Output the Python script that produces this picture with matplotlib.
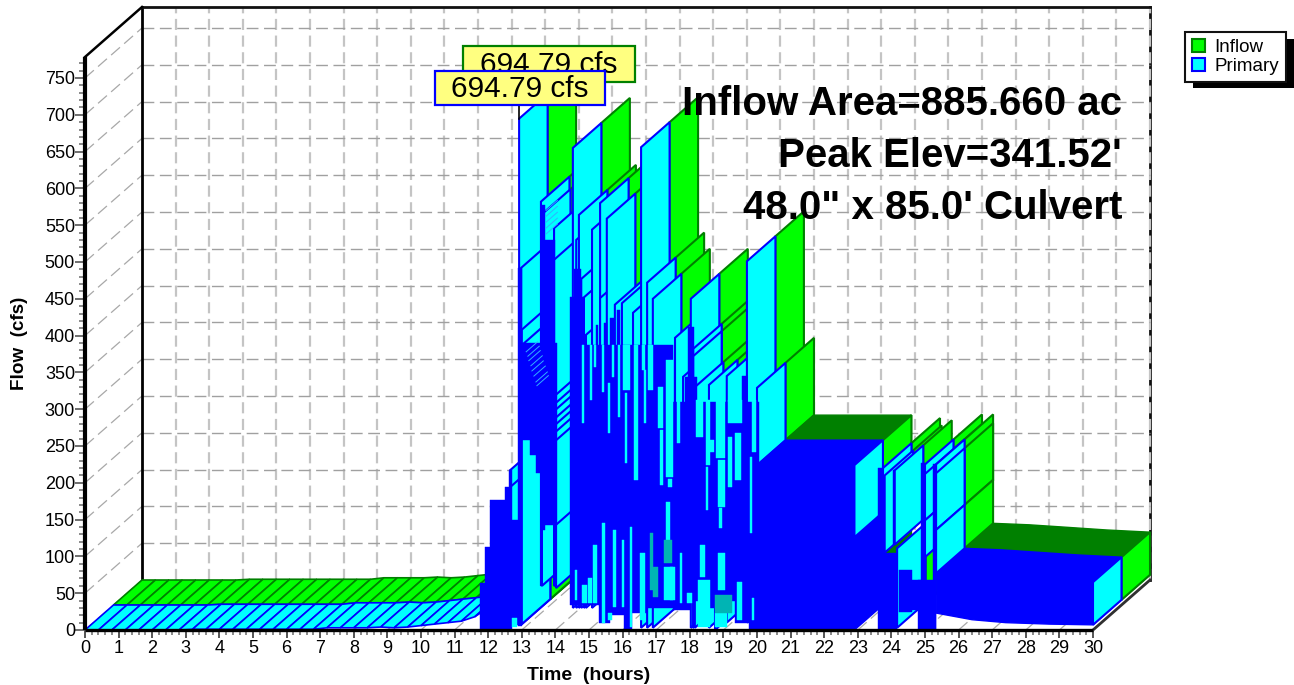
import matplotlib
matplotlib.use("Agg")
import matplotlib.pyplot as plt
from matplotlib.patches import Polygon, Rectangle, Patch
from matplotlib.ticker import MultipleLocator

W, H = 1294, 685
plt.rcParams['font.family'] = ['Liberation Sans', 'DejaVu Sans']
plt.rcParams['lines.scale_dashes'] = False

# ---------- data ----------
low_t = [0.0,0.4,0.8,1.2,1.6,2.0,2.4,2.8,3.2,3.6,4.0,4.4,4.8,5.2,5.6,6.0,6.4,6.8,
         7.2,7.6,8.0,8.4,8.8,9.2,9.6,10.0,10.4,10.8,11.2,11.6,12.0]
low_q = [0,0,0,0,0,0,0,0,1,1,1,1,1,1,1,1,1,1,
         3,3,3,3,4,3,4,6,8,10,12,18,30]

wall_t = [12.65,12.65,12.92,12.98,13.0,13.0,13.57,13.6,13.96,13.96,14.0,14.0,14.0,14.0,14.0,14.0,14.0,14.02,
          14.52,14.62,14.7,14.77,14.85,14.91,15.09,15.33,15.33,15.53,15.77,15.98,16.31,16.55,16.73,16.9,
          17.56,17.6,17.8,18.03,18.1,18.1,18.15,18.57,18.75,19.1,19.7,19.8,20.0,
          22.9,23.75,23.8,24.1,24.17,25.0,25.0,25.0,25.33,25.33,25.33,30.0]
wall_top = [217,194,694.79,492,408,387,582,565,546,503,319,308,299,288,279,269,257,143,
            655,530,564,477,452,401,544,580,451,559,442,444,431,656,472,450,
            397,299,344,450,382,372,330,333,295,345,501,299,329,
            224,220,210,217,111,225,212,149,225,213,136,65]
wall_bottom = [30,30,8,8,8,8,60,60,60,60,60,60,60,60,60,60,60,57,
               30,30,30,30,30,30,30,30,30,30,30,30,30,3,3,3,
               30,30,30,3,3,3,3,3,0,10,10,10,224,
               126,105,105,116,3,149,149,99,136,136,77,7]

dense_t0 = [11.76,11.9,12.05,12.5,12.62,12.72,12.9,13.0,13.24,13.42,13.57,13.69,13.99,
            14.43,14.55,14.76,14.82,15.3,15.63,16.04,16.28,16.73,
            17.5,18.05,18.5,18.85,19.35,19.75,
            15.2,15.45,15.63,15.83,17.85,17.95,19.55]
dense_t1 = [11.9,12.05,12.5,12.62,12.72,12.92,13.0,13.24,13.42,13.57,13.69,13.99,14.05,
            14.55,14.76,14.82,15.3,15.63,16.04,16.28,16.73,17.5,
            18.05,18.5,18.85,19.35,19.75,20.05,
            15.27,15.53,15.74,15.92,18.21,18.12,19.7]
dense_low = [0,0,0,0,0,7,6,258,238,213,136,143,143,
             34,34,34,34,10,20,0,23,30,
             27,40,30,40,10,0,
             100,100,100,100,100,100,100]
dense_high = [64,113,177,194,217,149,492,390,390,390,578,530,390,
              453,490,453,387,387,387,387,387,387,
              310,310,310,310,310,310,
              415,417,424,435,344,412,345]

gap_t0 = [14.79,15.03,15.15,15.39,15.57,15.68,15.86,16.01,16.07,16.34,16.58,16.64,16.76,17.05,17.11,17.29,17.35,
          17.62,17.29,14.58,14.79,14.97,15.12,15.39,15.57,15.71,15.98,16.22,16.52,17.23,
          18.18,18.48,18.48,18.6,18.78,18.84,18.87,19.14,19.14,19.35,19.79,19.85,18.84,18.75,18.3,18.24,
          17.71,17.92,19.4,19.85,17.41,12.72]
gap_t1 = [14.84,15.09,15.21,15.45,15.63,15.73,15.92,16.22,16.13,16.46,16.67,16.7,16.9,17.2,17.2,17.5,17.47,
          17.71,17.41,14.64,14.94,15.09,15.24,15.48,15.68,15.8,16.04,16.28,16.67,17.5,
          18.39,18.6,18.54,18.72,19.05,19.05,18.96,19.26,19.55,19.52,19.85,19.97,19.05,19.11,18.45,18.6,
          17.77,18.07,19.55,19.91,17.56,12.86]
gap_low = [281,313,357,323,268,344,289,326,227,204,353,281,326,275,197,208,194,
           254,122,41,37,37,37,10,14,31,31,4,14,41,
           262,224,163,242,234,167,139,194,281,204,132,242,54,4,72,4,
           37,37,14,14,41,4]
gap_high = [387,387,387,387,336,387,387,387,322,387,387,353,387,330,272,367,205,
            312,174,82,61,71,115,145,23,136,122,140,105,86,
            312,312,222,258,312,231,166,262,312,268,235,312,105,23,116,68,
            105,50,65,43,86,16]

teal_t0 = [16.82,16.90,17.23,18.75]
teal_t1 = [16.90,17.05,17.47,19.26]
teal_low = [54,45,91,23]
teal_high = [132,86,122,48]

stripe_t = [13.13,13.18,13.21,13.27,13.30,13.36,13.42,13.45,13.72,13.72,13.72,13.72,13.72]
stripe_q = [378,372,366,359,352,345,337,332,570,562,554,546,538]

block_20_t = [20.0,22.9]
block_20_low = [0,0]
block_20_high = [224,224]

block_25_t = [25.33,26.4,27.4,28.7,30.0]
block_25_low = [23,14,10,8,7]
block_25_high = [77,75,72,68,65]

late_t0 = [23.6,23.75,24.05,24.23,24.6,24.79,24.88,25.24]
late_t1 = [23.75,24.17,24.14,24.6,24.88,25.33,25.0,25.33]
late_low = [0,0,116,24,27,0,0,0]
late_high = [220,105,217,82,68,68,227,225]

peak_labels = ["694.79 cfs", "694.79 cfs"]
notes = ["Inflow Area=885.660 ac", "Peak Elev=341.52'", "48.0\" x 85.0' Culvert"]
series_names = ["Inflow", "Primary"]
x_major = list(range(0, 31))
y_major = list(range(0, 751, 50))

GREEN, DGREEN, CYAN, BLUE, TEAL = '#00FF00', '#008000', '#00FFFF', '#0000FF', '#00B4B4'

# ---------- figure / axes ----------
fig = plt.figure(figsize=(W/100, H/100), dpi=100, facecolor='white')
ax = fig.add_axes([85/W, 1-630/H, (1093-85)/W, (630-57)/H])
ax.set_xlim(0, 30)
ax.set_ylim(0, (630-57)/0.736)
ax.patch.set_alpha(0)
for s in ax.spines.values():
    s.set_visible(False)

DT, DQ = 57.0/33.6, 50/0.736
TOPQ = (630-57)/0.736

z = [1.0]
def nz():
    z[0] += 0.001
    return z[0]

def poly(pts, fc, ec, lw=1.5):
    ax.add_patch(Polygon(pts, closed=True, fc=fc, ec=ec, lw=lw, clip_on=False, zorder=nz(), joinstyle='miter'))

def wall(t, top, bot, d0, d1, fc, ec):
    poly([(t+d0*DT, top+d0*DQ), (t+d1*DT, top+d1*DQ), (t+d1*DT, bot+d1*DQ), (t+d0*DT, bot+d0*DQ)], fc, ec)

def block(ts, lows, highs, d0, d1, color):
    pts = [(t+d0*DT, l+d0*DQ) for t, l in zip(ts, lows)]
    pts.append((ts[-1]+d1*DT, lows[-1]+d1*DQ))
    pts += [(t+d1*DT, h+d1*DQ) for t, h in zip(ts[::-1], highs[::-1])]
    pts.append((ts[0]+d0*DT, highs[0]+d0*DQ))
    poly(pts, color, color, 1.0)

def rects(t0, t1, lo, hi, color):
    for a, b, c, d in zip(t0, t1, lo, hi):
        poly([(a, c), (b, c), (b, d), (a, d)], color, color, 0.3)

# ---------- walls of the box ----------
grid_h = dict(color='#A0A0A0', lw=1.0, ls=(0, (8.5, 4.0)), zorder=0.5, clip_on=False)
grid_v = dict(color='#C4C4C4', lw=1.6, ls=(0, (8.0, 4.0)), zorder=0.4, clip_on=False)
ax.plot([DT, DT], [DQ, TOPQ+DQ], color='k', lw=2.0, zorder=0.6, clip_on=False)
ax.plot([DT, 30+DT], [TOPQ+DQ]*2, color='#111111', lw=2.0, zorder=0.6, clip_on=False)
ax.plot([30+DT]*2, [DQ, TOPQ+DQ], color='#111111', lw=2.0, zorder=0.3, clip_on=False)
ax.plot([0, DT], [TOPQ, TOPQ+DQ], color='k', lw=1.8, zorder=0.6, clip_on=False)
ax.plot([30, 30+DT], [0, DQ], color='#303030', lw=2.0, zorder=0.6, clip_on=False)
for q in y_major[1:]:
    ax.plot([DT, 30+DT], [q+DQ]*2, **grid_h)
    ax.plot([0, DT], [q, q+DQ], **dict(grid_h, lw=0.9, color='#A8A8A8'))
for t in x_major[1:]:
    ax.plot([t+DT]*2, [DQ, TOPQ+DQ], **grid_v)
for t in x_major[:30]:
    ax.plot([t, t+DT], [0, DQ], **dict(grid_h, lw=0.9, color='#A8A8A8', zorder=0.5))

# ---------- series, back half (inflow) then front half (primary) ----------
order = sorted(range(len(wall_t)), key=lambda i: wall_t[i])
early = [i for i in order if wall_t[i] <= 20.0]
later = [i for i in order if wall_t[i] > 20.0]

def ribbon(d0, d1, fc, ec):
    for i in range(len(low_t)-1):
        a, b, qa, qb = low_t[i], low_t[i+1], low_q[i], low_q[i+1]
        poly([(a+d0*DT, qa+d0*DQ), (b+d0*DT, qb+d0*DQ), (b+d1*DT, qb+d1*DQ), (a+d1*DT, qa+d1*DQ)], fc, ec, 1.2)

def later_part(d0, d1, fc, ec, solid):
    block(block_20_t, block_20_low, block_20_high, d0, d1, solid)
    items = [(wall_t[i], 1, i) for i in later] + [(late_t0[j], 0, j) for j in range(len(late_t0))] + [(25.33, 0.5, -1)]
    for t, kind, i in sorted(items, key=lambda r: (r[0], r[1])):
        if kind == 1:
            wall(wall_t[i], wall_top[i], wall_bottom[i], d0, d1, fc, ec)
        elif kind == 0.5:
            block(block_25_t, block_25_low, block_25_high, d0, d1, solid)
        elif d0 == 0:
            rects([late_t0[i]], [late_t1[i]], [late_low[i]], [late_high[i]], solid)

# inflow
ribbon(0.5, 1.0, GREEN, DGREEN)
for i in early:
    wall(wall_t[i], wall_top[i], wall_bottom[i], 0.5, 1.0, GREEN, DGREEN)
later_part(0.5, 1.0, GREEN, DGREEN, DGREEN)

# primary
ribbon(0.0, 0.5, CYAN, BLUE)
for i in early:
    wall(wall_t[i], wall_top[i], wall_bottom[i], 0.0, 0.5, CYAN, BLUE)
rects(dense_t0, dense_t1, dense_low, dense_high, BLUE)
rects(gap_t0, gap_t1, gap_low, gap_high, CYAN)
rects(teal_t0, teal_t1, teal_low, teal_high, TEAL)
for t, q in zip(stripe_t, stripe_q):
    ax.plot([t, t+0.2*DT], [q, q+0.2*DQ], color='#30B0FF', lw=0.7, zorder=nz(), clip_on=False)
later_part(0.0, 0.5, CYAN, BLUE, BLUE)

# ---------- axes furniture ----------
ax.plot([0, 0], [0, TOPQ], color='k', lw=3.0, zorder=6, clip_on=False, solid_capstyle='butt')
ax.plot([0, 30], [0, 0], color='k', lw=2.4, zorder=6, clip_on=False, solid_capstyle='butt')
ax.set_xticks(x_major)
ax.set_yticks(y_major)
ax.xaxis.set_minor_locator(MultipleLocator(0.2))
ax.yaxis.set_minor_locator(MultipleLocator(10))
ax.tick_params(axis='x', which='major', length=6.0, width=1.4, color='#555555', labelsize=13, pad=1.5)
ax.tick_params(axis='x', which='minor', length=3.6, width=1.2, color='#777777')
ax.tick_params(axis='y', which='major', length=7.0, width=1.2, color='#555555', labelsize=13, pad=0.2)
ax.tick_params(axis='y', which='minor', length=4.6, width=1.2, color='#777777')
ax.set_axisbelow(False)

def px(x, y):
    return x/W, 1-y/H

fig.text(*px(589, 675), "Time  (hours)", ha='center', va='center', fontweight='bold', fontsize=14, zorder=20)
fig.text(*px(20, 343), "Flow  (cfs)", ha='center', va='center', rotation=90, fontweight='bold', fontsize=13.6, zorder=20)

for text, y in zip(notes, [104, 156, 208]):
    fig.text(*px(1122, y), text, ha='right', va='center', fontweight='bold', fontsize=29, zorder=20)

def label(text, x0, y0, x1, y1, ec, zz):
    fig.add_artist(Rectangle(px(x0, y1), (x1-x0)/W, (y1-y0)/H, transform=fig.transFigure,
                             fc='#FFFF80', ec=ec, lw=1.6, zorder=zz))
    fig.text(*px((x0+x1)/2, (y0+y1)/2+1), text, ha='center', va='center', fontsize=21.5, zorder=zz+0.5)

ax.plot([12.92, 12.92], [694.79, 715], color='k', lw=1.2, zorder=7, clip_on=False)
label(peak_labels[0], 463, 46, 635, 82, DGREEN, 21)
label(peak_labels[1], 435, 71, 605, 105, BLUE, 22)

# ---------- legend ----------
fig.add_artist(Rectangle(px(1193, 88), 101/W, 49/H, transform=fig.transFigure, fc='k', ec='k', lw=0, zorder=23))
leg = fig.legend(handles=[Patch(fc=GREEN, ec=DGREEN, lw=1.5), Patch(fc=CYAN, ec=BLUE, lw=1.5)], labels=series_names,
                 loc='upper left', bbox_to_anchor=px(1185, 32), bbox_transform=fig.transFigure,
                 fontsize=13.5, frameon=True, fancybox=False, edgecolor='#111111', facecolor='white', framealpha=1,
                 borderpad=0.36, handlelength=0.7, handleheight=0.7, handletextpad=0.5, labelspacing=0.12, borderaxespad=0)
leg.get_frame().set_linewidth(1.5)
leg.set_zorder(24)

fig.savefig("out.png", dpi=100)
